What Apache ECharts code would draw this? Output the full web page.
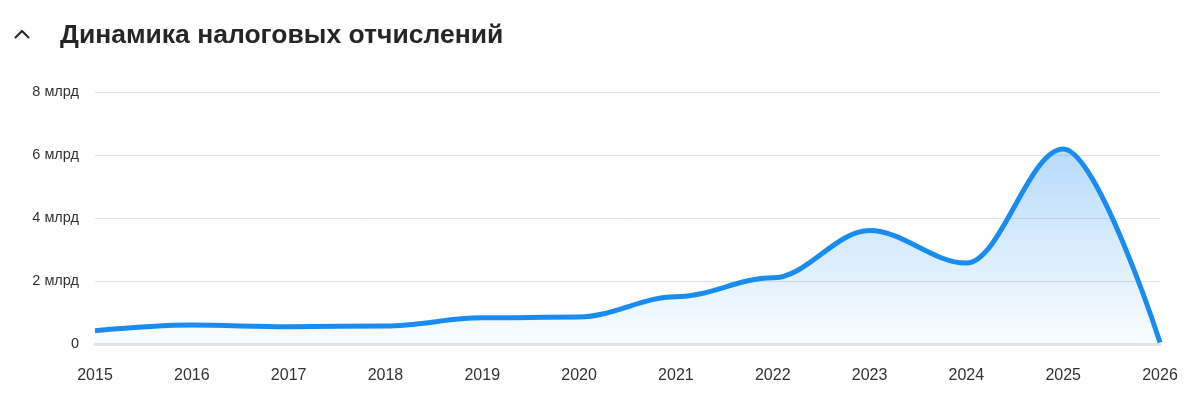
<!DOCTYPE html>
<html>
<head>
<meta charset="utf-8">
<script src="https://cdn.jsdelivr.net/npm/echarts@6/dist/echarts.min.js"></script>
<style>
  html, body { margin: 0; padding: 0; background: #fff; }
  #chart { width: 1200px; height: 415px; }
</style>
</head>
<body>
<div id="chart"></div>
<script>
// годы
const years = ['2015', '2016', '2017', '2018', '2019', '2020', '2021', '2022', '2023', '2024', '2025', '2026']
// налоговые отчисления, руб.
const taxValues = [0.42e9, 0.6e9, 0.55e9, 0.57e9, 0.83e9, 0.86e9, 1.5e9, 2.1e9, 3.6e9, 2.57e9, 6.19e9, 0.05e9]
// деления оси Y
const yTicks = [0, 2e9, 4e9, 6e9, 8e9]

const chart = echarts.init(document.getElementById('chart'))
const fontFamily = '"Liberation Sans", Arial, Helvetica, sans-serif'

const option = {
  animation: false,
  textStyle: { fontFamily },
  title: {
    text: 'Динамика налоговых отчислений',
    left: 55,
    top: 17,
    textStyle: {
      color: '#262626',
      fontSize: 26.5,
      fontWeight: 'bold',
      fontFamily
    }
  },
  graphic: [{
    type: 'polyline',
    shape: { points: [[15, 38], [22, 31], [29, 38]] },
    style: { stroke: '#262626', lineWidth: 2, fill: null }
  }],
  grid: {
    left: 95,
    right: 40,
    top: 92,
    bottom: 71
  },
  xAxis: {
    type: 'category',
    boundaryGap: false,
    data: years,
    axisLine: { show: true, lineStyle: { color: '#e3e3e3', width: 3 } },
    axisTick: { show: false },
    axisLabel: { color: '#333', fontSize: 16, margin: 24 }
  },
  yAxis: {
    type: 'value',
    min: yTicks[0],
    max: yTicks[yTicks.length - 1],
    interval: yTicks[1] - yTicks[0],
    axisLine: { show: false },
    axisTick: { show: false },
    axisLabel: {
      color: '#333',
      fontSize: 14.5,
      margin: 16,
      padding: [0, 0, 5, 0],
      formatter: v => v === 0 ? '0' : (v / 1e9) + ' млрд'
    },
    splitLine: { lineStyle: { color: '#e3e3e3', width: 1 } }
  },
  series: [{
    type: 'line',
    data: taxValues,
    smooth: 0.35,
    smoothMonotone: 'x',
    symbol: 'none',
    lineStyle: { color: '#1a8cf0', width: 5 },
    areaStyle: {
      color: new echarts.graphic.LinearGradient(0, 0, 0, 1, [
        { offset: 0, color: 'rgba(26,140,240,0.45)' },
        { offset: 1, color: 'rgba(26,140,240,0.03)' }
      ])
    }
  }]
}

chart.setOption(option)
</script>
</body>
</html>
